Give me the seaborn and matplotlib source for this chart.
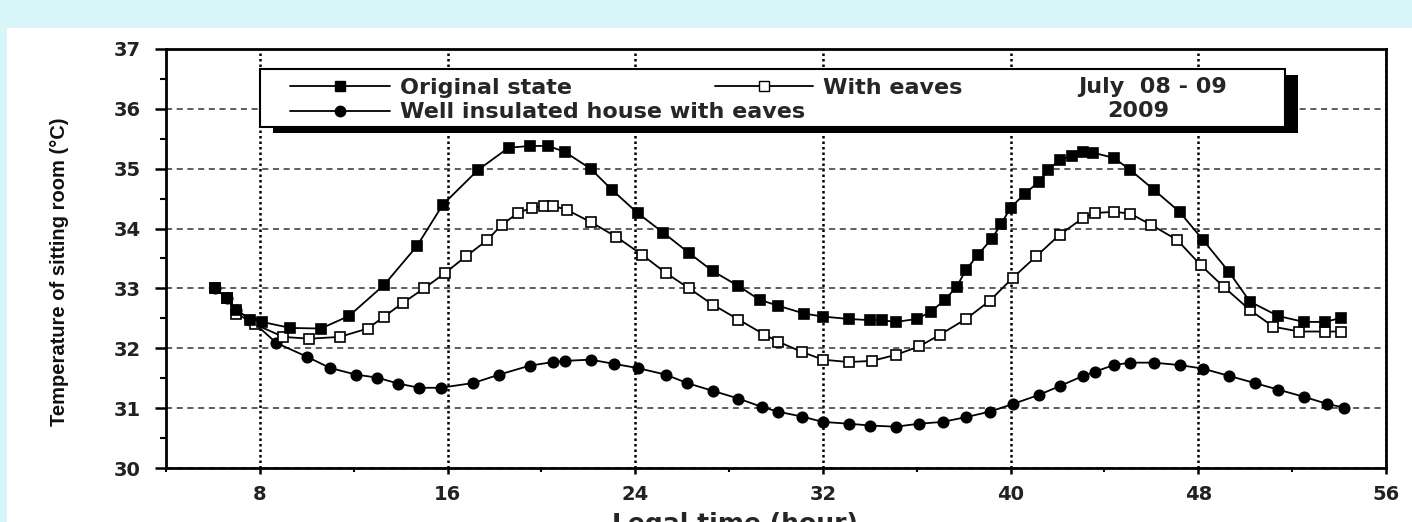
import matplotlib
matplotlib.use('Agg')
import matplotlib.pyplot as plt
import seaborn as sns
from matplotlib.lines import Line2D
from matplotlib.patches import Rectangle
from matplotlib.ticker import MultipleLocator

# Valores (hora legal, temperatura da sala em °C)
hora_original = [6.1, 6.6, 7.0, 7.6, 8.1, 9.3, 10.6, 11.8, 13.3, 14.7, 15.8, 17.3, 18.6, 19.5,
                 20.3, 21.0, 22.1, 23.0, 24.1, 25.2, 26.3, 27.3, 28.4, 29.3, 30.1, 31.2, 32.0,
                 33.1, 34.0, 34.5, 35.1, 36.0, 36.6, 37.2, 37.7, 38.1, 38.6, 39.2, 39.6, 40.0,
                 40.6, 41.2, 41.6, 42.1, 42.6, 43.1, 43.5, 44.4, 45.1, 46.1, 47.2, 48.2, 49.3,
                 50.2, 51.4, 52.5, 53.4, 54.1]
temp_original = [33.0, 32.84, 32.64, 32.48, 32.44, 32.34, 32.33, 32.54, 33.06, 33.71, 34.4, 34.98,
                 35.35, 35.38, 35.38, 35.28, 35.0, 34.65, 34.26, 33.93, 33.59, 33.29, 33.04, 32.81,
                 32.71, 32.58, 32.53, 32.49, 32.47, 32.47, 32.44, 32.49, 32.61, 32.81, 33.03, 33.31,
                 33.56, 33.83, 34.08, 34.35, 34.58, 34.78, 34.98, 35.15, 35.21, 35.28, 35.27, 35.18,
                 34.98, 34.65, 34.28, 33.81, 33.28, 32.78, 32.54, 32.44, 32.44, 32.51]

hora_beiral = [6.1, 6.6, 7.0, 7.8, 9.0, 10.1, 11.4, 12.6, 13.3, 14.1, 15.0, 15.9, 16.8, 17.7,
               18.3, 19.0, 19.6, 20.1, 20.5, 21.1, 22.1, 23.2, 24.3, 25.3, 26.3, 27.3, 28.4,
               29.5, 30.1, 31.1, 32.0, 33.1, 34.1, 35.1, 36.1, 37.0, 38.1, 39.1, 40.1, 41.1,
               42.1, 43.1, 43.6, 44.4, 45.1, 46.0, 47.1, 48.1, 49.1, 50.2, 51.2, 52.3, 53.4, 54.1]
temp_beiral = [33.0, 32.84, 32.58, 32.4, 32.19, 32.16, 32.19, 32.33, 32.53, 32.76, 33.0, 33.26,
               33.54, 33.81, 34.06, 34.26, 34.35, 34.38, 34.38, 34.31, 34.11, 33.86, 33.56, 33.26,
               33.0, 32.73, 32.48, 32.23, 32.11, 31.94, 31.81, 31.77, 31.79, 31.89, 32.03, 32.23,
               32.49, 32.79, 33.18, 33.54, 33.9, 34.18, 34.26, 34.28, 34.25, 34.06, 33.81, 33.39,
               33.02, 32.64, 32.36, 32.28, 32.28, 32.28]

hora_isolada = [6.1, 6.6, 7.0, 7.6, 8.7, 10.0, 11.0, 12.1, 13.0, 13.9, 14.8, 15.7, 17.1, 18.2,
                19.5, 20.5, 21.0, 22.1, 23.1, 24.1, 25.3, 26.2, 27.3, 28.4, 29.4, 30.1, 31.1,
                32.0, 33.1, 34.0, 35.1, 36.1, 37.1, 38.1, 39.1, 40.1, 41.2, 42.1, 43.1, 43.6,
                44.4, 45.1, 46.1, 47.2, 48.2, 49.3, 50.4, 51.4, 52.5, 53.5, 54.2]
temp_isolada = [33.0, 32.84, 32.64, 32.48, 32.09, 31.86, 31.67, 31.56, 31.51, 31.41, 31.34, 31.34,
                31.42, 31.56, 31.71, 31.77, 31.79, 31.81, 31.74, 31.67, 31.56, 31.42, 31.29, 31.16,
                31.02, 30.94, 30.86, 30.77, 30.74, 30.71, 30.69, 30.74, 30.77, 30.85, 30.94, 31.07,
                31.22, 31.37, 31.54, 31.61, 31.72, 31.76, 31.76, 31.72, 31.66, 31.54, 31.42, 31.31,
                31.19, 31.07, 31.01]

rotulos = ['Original state', 'With eaves', 'Well insulated house with eaves']
periodo = ['July  08 - 09', '2009']


def desenhar_serie(ax, horas, temps, marcador, preenchimento, tamanho):
    sns.lineplot(x=horas, y=temps, ax=ax, color='black', linewidth=1.3,
                 marker=marcador, markersize=tamanho, markerfacecolor=preenchimento,
                 markeredgecolor='black', markeredgewidth=1.2,
                 sort=False, estimator=None, legend=False, zorder=3)


sns.set_style('ticks')
plt.rcParams['font.family'] = ['DejaVu Sans']

fig = plt.figure(figsize=(14.12, 5.22), dpi=100)
fig.patch.set_facecolor('#d8f5f9')
fig.patches.append(Rectangle((7 / 1412, 0), 1, 1 - 28 / 522, transform=fig.transFigure,
                             facecolor='white', edgecolor='none', zorder=-1))
ax = fig.add_axes([166 / 1412, 54 / 522, 1220 / 1412, 419 / 522])
ax.set_facecolor('white')

desenhar_serie(ax, hora_isolada, temp_isolada, 'o', 'black', 7.5)
desenhar_serie(ax, hora_beiral, temp_beiral, 's', 'white', 7)
desenhar_serie(ax, hora_original, temp_original, 's', 'black', 7)

ax.set_xlim(4, 56)
ax.set_ylim(30, 37)
ax.set_xticks(range(8, 57, 8))
ax.xaxis.set_minor_locator(MultipleLocator(4))
ax.set_yticks(range(30, 38))
ax.yaxis.set_minor_locator(MultipleLocator(0.5))

ax.set_axisbelow(True)
ax.yaxis.grid(True, which='major', linestyle=(0, (4, 3)), color='#333333', linewidth=1.1)
ax.xaxis.grid(True, which='major', linestyle=(0, (1, 1.2)), color='black', linewidth=1.8)

for lado in ['left', 'bottom', 'top', 'right']:
    ax.spines[lado].set_visible(True)
    ax.spines[lado].set_color('black')
    ax.spines[lado].set_linewidth(2)

ax.tick_params(axis='y', which='major', direction='out', length=8, width=1.8, pad=10,
               labelsize=14, colors='black', labelcolor='#222222')
ax.tick_params(axis='y', which='minor', direction='out', length=4.5, width=1.5, colors='black')
ax.tick_params(axis='x', which='major', direction='out', length=4, width=1.8, pad=8,
               labelsize=14, colors='black', labelcolor='#222222')
ax.tick_params(axis='x', which='minor', direction='out', length=3, width=1.5, colors='black')
for rotulo in ax.get_xticklabels() + ax.get_yticklabels():
    rotulo.set_fontweight('bold')

ax.set_ylabel('Temperature of sitting room (°C)', family=['Liberation Sans', 'DejaVu Sans'],
              fontsize=14.5, fontweight='bold', va='center', color='#111111')
ax.yaxis.set_label_coords(-0.087, 0.468)
ax.set_xlabel('Legal time (hour)', fontsize=18, fontweight='bold')
ax.xaxis.set_label_coords(0.466, -0.105)

# caixa da legenda com sombra
ax.add_patch(Rectangle((0.077 + 0.0107, 0.814 - 0.0143), 0.84, 0.138, transform=ax.transAxes,
                       facecolor='black', edgecolor='none', zorder=4.9))
ax.add_patch(Rectangle((0.077, 0.814), 0.84, 0.138, transform=ax.transAxes,
                       facecolor='white', edgecolor='black', linewidth=1.5, zorder=5))

h_original = Line2D([], [], color='black', lw=1.3, marker='s', ms=7, mfc='black', mec='black')
h_beiral = Line2D([], [], color='black', lw=1.3, marker='s', ms=7, mfc='white', mec='black')
h_isolada = Line2D([], [], color='black', lw=1.3, marker='o', ms=7.5, mfc='black', mec='black')

fonte_leg = {'weight': 'bold', 'size': 16}
leg1 = ax.legend(handles=[h_original, h_isolada], labels=[rotulos[0], rotulos[2]],
                 loc='upper left', bbox_to_anchor=(0.1016, 0.931), frameon=False,
                 borderpad=0, borderaxespad=0, handlelength=4.5, handletextpad=0.45,
                 labelspacing=0.2, prop=fonte_leg)
leg1.set_zorder(6)
ax.add_artist(leg1)
leg2 = ax.legend(handles=[h_beiral], labels=[rotulos[1]],
                 loc='upper left', bbox_to_anchor=(0.45, 0.931), frameon=False,
                 borderpad=0, borderaxespad=0, handlelength=4.4, handletextpad=0.45,
                 prop=fonte_leg)
leg2.set_zorder(6)

ax.text(0.809, 0.909, periodo[0], transform=ax.transAxes, ha='center', va='center',
        fontsize=16, fontweight='bold', zorder=6)
ax.text(0.797, 0.852, periodo[1], transform=ax.transAxes, ha='center', va='center',
        fontsize=16, fontweight='bold', zorder=6)

fig.savefig('out.png', dpi=100, facecolor=fig.get_facecolor())
